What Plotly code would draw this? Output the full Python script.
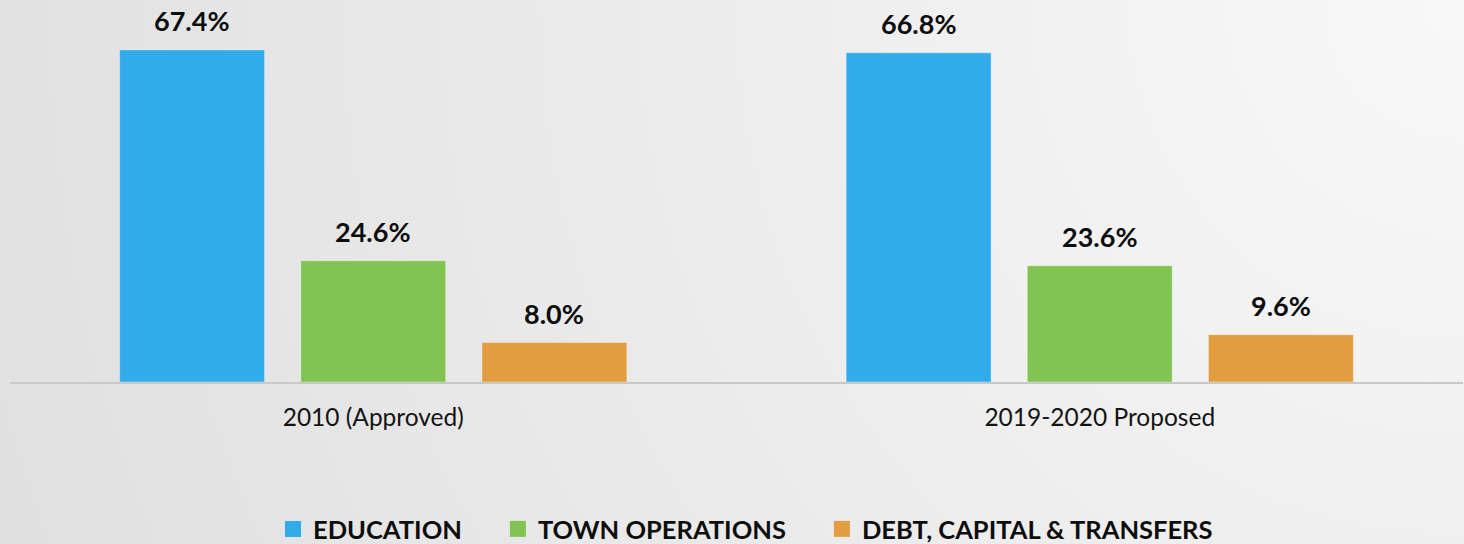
import base64
import plotly.graph_objects as go

categories = ["2010 (Approved)", "2019-2020 Proposed"]
series_names = ["EDUCATION", "TOWN OPERATIONS", "DEBT, CAPITAL &amp; TRANSFERS"]
education = [67.4, 66.8]
town_operations = [24.6, 23.6]
debt_capital = [8.0, 9.6]
series_values = [education, town_operations, debt_capital]
colors = ["#31ABEA", "#81C451", "#E29D40"]

W, H = 1464, 544
ML, MR, MT, MB = 10, 1, 10, 162
BARGAP, BARGROUPGAP = 0.252, 0.2
FONT = "Lato"
NBSP = "\u00a0"

fig = go.Figure()
for k, (name, vals, col) in enumerate(zip(series_names, series_values, colors)):
    fig.add_trace(go.Bar(
        x=categories, y=vals, name=name, legendgroup=name, showlegend=False,
        marker=dict(color=col, line=dict(color="rgba(255,255,255,0.35)", width=1)),
        hoverinfo="skip",
    ))
# legend entries (bigger square swatches, like the original)
for k, (name, col) in enumerate(zip(series_names, colors)):
    pad = NBSP * 5 if k < len(series_names) - 1 else ""
    fig.add_trace(go.Scatter(
        x=[None], y=[None], mode="markers", name=name + pad, legendgroup=name,
        marker=dict(symbol="square", size=16, color=col), showlegend=True,
    ))

# data labels placed above each bar, offset horizontally by the group slot
plot_w = W - ML - MR
plot_h = H - MT - MB
cat_w = plot_w / len(categories)
slot = cat_w * (1 - BARGAP) / len(series_values)
annotations = []
for i, vals in enumerate(series_values):
    for cat, v in zip(categories, vals):
        annotations.append(dict(
            x=cat, y=v, xref="x", yref="y", text=f"<b>{v:.1f}%</b>",
            showarrow=False, yanchor="bottom", xanchor="center",
            xshift=(i - (len(series_values) - 1) / 2) * slot, yshift=11,
            font=dict(family=FONT, size=27, color="#0d0d0d"),
        ))

svg = f'''<svg xmlns="http://www.w3.org/2000/svg" width="{W}" height="{H}">
<defs><radialGradient id="g" cx="1" cy="0" r="1.25" gradientUnits="objectBoundingBox"
gradientTransform="scale(1,2.7)">
<stop offset="0" stop-color="#f8f8f8"/><stop offset="1" stop-color="#dcdcdc"/></radialGradient></defs>
<rect width="{W}" height="{H}" fill="url(#g)"/></svg>'''
src = "data:image/svg+xml;base64," + base64.b64encode(svg.encode()).decode()

fig.update_layout(
    width=W, height=H,
    margin=dict(l=ML, r=MR, t=MT, b=MB, autoexpand=False),
    barmode="group", bargap=BARGAP, bargroupgap=BARGROUPGAP,
    paper_bgcolor="#ececec", plot_bgcolor="rgba(0,0,0,0)",
    font=dict(family=FONT, color="#262626"),
    images=[dict(source=src, xref="paper", yref="paper", x=-ML / plot_w, y=1 + MT / plot_h,
                 sizex=W / plot_w, sizey=H / plot_h, sizing="stretch",
                 xanchor="left", yanchor="top", layer="below")],
    xaxis=dict(showline=True, linecolor="#c8c8c8", linewidth=2, ticks="",
               tickfont=dict(family=FONT, size=24.5, color="#141414"), ticklabelstandoff=13,
               showgrid=False, zeroline=False),
    yaxis=dict(range=[0, 75.5], visible=False, showgrid=False, zeroline=False),
    legend=dict(orientation="h", x=0.5062, xanchor="center", y=-0.396, yanchor="middle",
                font=dict(family=FONT, size=25.5, color="#0d0d0d", weight="bold"),
                bgcolor="rgba(0,0,0,0)", itemclick=False, itemdoubleclick=False),
    annotations=annotations,
    showlegend=True,
)

fig.write_html("out.html", config={"displayModeBar": False},
               post_script="document.body.style.margin='0';")
